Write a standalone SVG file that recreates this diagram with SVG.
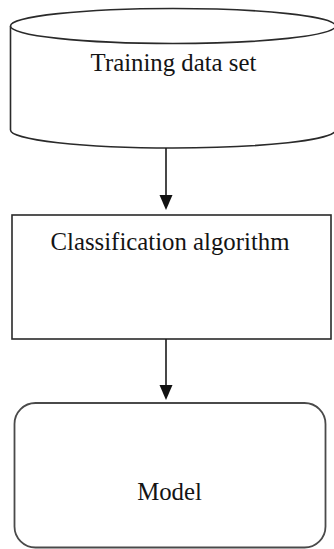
<svg xmlns="http://www.w3.org/2000/svg" width="334" height="549" viewBox="0 0 334 549">
  <style>
    .shape { fill: #ffffff; stroke: #2a2a2a; stroke-width: 1.6; }
    .soft { fill: #ffffff; stroke: #4a4a4a; stroke-width: 1.8; }
    .label { font-family: "Liberation Serif", "Times New Roman", serif; font-size: 24.8px; fill: #141414; text-anchor: middle; }
    .edge { stroke: #1a1a1a; stroke-width: 1.6; fill: none; }
    .head { fill: #111111; stroke: none; }
  </style>

  <rect width="334" height="549" fill="#ffffff"/>

  <!-- Training data store: cylinder -->
  <g id="training-data">
    <path class="shape" d="M10.5,26 L10.5,130 A162.5,18 0 0 0 335.5,130 L335.5,26"/>
    <ellipse class="shape" cx="173" cy="26" rx="162.5" ry="17.5"/>
    <text class="label" x="173.5" y="71">Training data set</text>
  </g>

  <!-- Classification step -->
  <g id="classification">
    <rect class="shape" x="12" y="215" width="319" height="124"/>
    <text class="label" x="170" y="250">Classification algorithm</text>
  </g>

  <!-- Resulting model -->
  <g id="model">
    <rect class="soft" x="14.5" y="403" width="311" height="144.5" rx="21" ry="21"/>
    <text class="label" x="169.5" y="500">Model</text>
  </g>

  <!-- Connectors -->
  <g id="connectors">
    <line class="edge" x1="166" y1="148" x2="166" y2="197"/>
    <polygon class="head" points="159.5,195 172.5,195 166,210"/>
    <line class="edge" x1="166" y1="339" x2="166" y2="387"/>
    <polygon class="head" points="159.5,385 172.5,385 166,400"/>
  </g>
</svg>
